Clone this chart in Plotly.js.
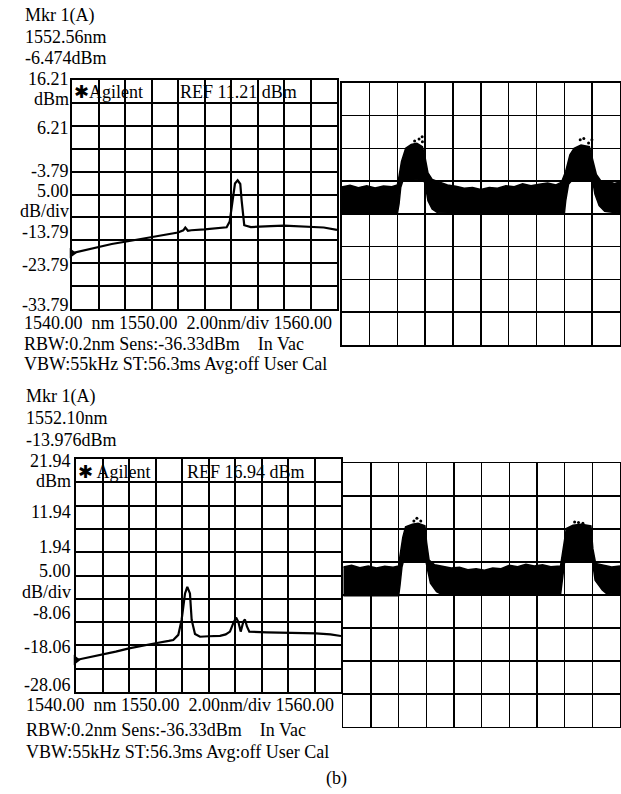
<!DOCTYPE html>
<html><head><meta charset="utf-8">
<script src="https://cdn.plot.ly/plotly-3.0.1.min.js"></script>
<style>html,body{margin:0;padding:0;background:#fff}</style>
</head><body><div id="chart" style="width:621px;height:794px"></div>
<script>
// ---------- spectrum upper analyzer trace ----------
const specA_nm  = [1540.0,1541.0,1542.0,1543.0,1544.0,1545.0,1546.0,1547.0,1548.0,1548.4,1548.55,1548.75,1549.0,1550.0,1551.0,1551.67,1551.9,1552.13,1552.3,1552.5,1552.56,1552.7,1552.8,1553.0,1553.5,1554.0,1555.0,1556.0,1557.0,1558.0,1559.0,1560.0];
const specA_dbm = [-21.6,-20.9,-20.2,-19.6,-19.1,-18.6,-18.1,-17.6,-17.1,-16.6,-16.0,-16.7,-16.6,-16.4,-16.2,-15.95,-14.7,-9.3,-6.4,-5.7,-5.9,-6.5,-10.0,-15.5,-15.9,-15.8,-15.7,-15.6,-15.7,-15.8,-16.0,-16.5];
// ---------- spectrum lower analyzer trace ----------
const specB_nm  = [1540.0,1541.0,1542.0,1543.0,1544.0,1545.0,1546.0,1547.0,1547.34,1547.72,1547.97,1548.23,1548.4,1548.6,1548.73,1548.98,1549.36,1550.0,1550.87,1551.3,1551.62,1551.87,1552.08,1552.25,1552.43,1552.63,1552.75,1552.9,1553.08,1554.4,1556.0,1558.1,1559.2,1560.0];
const specB_dbm = [-21.2,-20.6,-20.1,-19.4,-18.7,-18.1,-17.6,-17.1,-16.9,-15.8,-12.6,-6.9,-5.5,-6.9,-12.6,-15.6,-16.2,-16.1,-16.0,-15.7,-15.1,-13.3,-12.1,-13.0,-15.1,-13.0,-12.5,-14.0,-15.1,-15.25,-15.3,-15.5,-15.7,-16.05];

// ---------- axis labels / texts ----------
const specA_ylabels = ['16.21','dBm','6.21','-3.79','5.00','dB/div','-13.79','-23.79','-33.79'];
const specB_ylabels = ['21.94','dBm','11.94','1.94','5.00','dB/div','-8.06','-18.06','-28.06'];
const specA_range = [-33.79, 16.21];
const specB_range = [-28.06, 21.94];
const spec_nm_range = [1540, 1560];
const specA_head = ['Mkr 1(A)','1552.56nm','-6.474dBm'];
const specB_head = ['Mkr 1(A)','1552.10nm','-13.976dBm'];
const specA_banner = ['\u2731Agilent','REF 11.21 dBm'];
const specB_banner = ['\u2731 Agilent','REF 16.94 dBm'];
const specA_foot = ['1540.00  nm 1550.00  2.00nm/div 1560.00','RBW:0.2nm Sens:-36.33dBm    In Vac','VBW:55kHz ST:56.3ms Avg:off User Cal'];
const specB_foot = ['1540.00  nm 1550.00  2.00nm/div 1560.00','RBW:0.2nm Sens:-36.33dBm    In Vac','VBW:55kHz ST:56.3ms Avg:off User Cal'];
const caption = '(b)';

// ---------- oscilloscope (upper) envelope, in divisions ----------
const scopeA_up_t = [0,0.3,0.6,0.9,1.2,1.5,1.8,2.0,2.05,2.15,2.3,2.5,2.7,2.9,3.0,3.1,3.25,3.5,3.8,4.1,4.4,4.7,5.0,5.3,5.6,5.9,6.2,6.5,6.8,7.1,7.4,7.7,7.9,8.05,8.2,8.35,8.6,8.9,9.03,9.15,9.3,9.6,9.8,10];
const scopeA_up_v = [4.82,4.87,4.8,4.86,4.79,4.85,4.83,4.88,5.1,5.6,6.0,6.12,6.15,6.05,5.7,5.25,5.05,4.97,4.88,4.84,4.78,4.8,4.74,4.8,4.78,4.86,4.83,4.92,4.86,4.9,4.94,4.88,4.97,5.3,5.8,6.0,6.1,6.05,5.6,5.2,5.02,4.98,4.93,4.97];
const scopeA_lo_t = [0,1.0,2.0,2.06,2.12,2.2,2.95,3.02,3.1,3.25,3.45,5.0,8.0,8.05,8.15,8.25,9.02,9.1,9.25,9.45,10];
const scopeA_lo_v = [4.02,4.0,4.0,4.3,4.8,5.02,5.05,4.8,4.4,4.15,4.03,4.0,4.0,4.4,4.9,5.0,5.0,4.6,4.25,4.08,4.02];
const scopeA_dot_t = [2.62,2.78,2.89,2.9,8.57,8.7,8.87,8.99];
const scopeA_dot_v = [6.22,6.28,6.35,6.2,6.26,6.3,6.16,6.26];
// ---------- oscilloscope (lower) envelope ----------
const scopeB_up_t = [0,0.3,0.6,0.9,1.2,1.5,1.8,2.0,2.05,2.15,2.25,2.5,2.7,2.95,3.01,3.1,3.3,3.6,3.9,4.2,4.5,4.8,5.1,5.4,5.7,6.0,6.3,6.6,6.9,7.2,7.5,7.85,7.95,8.06,8.3,8.6,8.95,9.02,9.12,9.4,9.7,10];
const scopeB_up_v = [4.85,4.9,4.83,4.88,4.82,4.87,4.84,4.88,5.2,5.75,6.07,6.15,6.18,6.1,5.6,5.06,4.92,4.86,4.82,4.84,4.77,4.8,4.75,4.82,4.8,4.9,4.86,4.93,4.88,4.92,4.86,4.88,5.5,6.02,6.12,6.15,6.1,5.4,4.96,4.9,4.85,4.88];
const scopeB_lo_t = [0,2.0,2.05,2.12,2.18,2.98,3.05,3.15,3.37,3.6,7.85,7.92,8.0,9.0,9.1,9.36,9.5,10];
const scopeB_lo_v = [3.98,3.98,4.3,4.85,5.05,5.05,4.75,4.36,4.1,4.0,4.0,4.5,5.02,5.05,4.45,4.15,4.05,4.0];
const scopeB_dot_t = [2.55,2.66,2.8,8.36,8.5,8.66];
const scopeB_dot_v = [6.25,6.33,6.25,6.22,6.2,6.18];

// ---------- layout helpers (pixel -> paper) ----------
const W = 621, H = 794;
const px = x => x / W, py = y => 1 - y / H;
const FONT = {family: 'Liberation Serif, Times New Roman, serif', size: 18, color: '#000'};

function specAxisX(dom){ return {domain: dom, range: spec_nm_range, tick0: 1540, dtick: 2, showgrid: true, gridcolor: '#000', gridwidth: 2,
  showline: true, mirror: true, linecolor: '#000', linewidth: 2, zeroline: false, showticklabels: false, ticks: '', fixedrange: true}; }
function specAxisY(dom, rng){ return {domain: dom, range: rng, tick0: rng[1], dtick: 5, showgrid: true, gridcolor: '#000', gridwidth: 2,
  showline: true, mirror: true, linecolor: '#000', linewidth: 2, zeroline: false, showticklabels: false, ticks: '', fixedrange: true}; }
function scopeAxis(dom, n){ return {domain: dom, range: [0, n], tick0: 0, dtick: 1, showgrid: true, gridcolor: '#000', gridwidth: 1.5,
  showline: true, mirror: true, linecolor: '#000', linewidth: 1.5, zeroline: false, showticklabels: false, ticks: '', fixedrange: true}; }

const layout = {
  width: W, height: H, margin: {l: 0, r: 0, t: 0, b: 0}, paper_bgcolor: '#fff', plot_bgcolor: '#fff',
  showlegend: false, hovermode: false, font: FONT,
  xaxis:  Object.assign(specAxisX([px(72), px(337)]), {anchor: 'y'}),
  yaxis:  Object.assign(specAxisY([py(309), py(80)], specA_range), {anchor: 'x'}),
  xaxis2: Object.assign(scopeAxis([px(341.7), px(620)], 10), {anchor: 'y2'}),
  yaxis2: Object.assign(scopeAxis([py(345), py(82.7)], 8), {anchor: 'x2'}),
  xaxis3: Object.assign(specAxisX([px(76), px(341)]), {anchor: 'y3'}),
  yaxis3: Object.assign(specAxisY([py(692), py(459)], specB_range), {anchor: 'x3'}),
  xaxis4: Object.assign(scopeAxis([px(343.3), px(620)], 10), {anchor: 'y4'}),
  yaxis4: Object.assign(scopeAxis([py(726.7), py(463.3)], 8), {anchor: 'x4'}),
  annotations: []
};

function ann(text, x, y, xanchor){
  layout.annotations.push({text: text, xref: 'paper', yref: 'paper', x: px(x), y: py(y), xanchor: xanchor, yanchor: 'middle',
    showarrow: false, borderpad: 0, font: FONT});
}
// header lines
const headA_y = [16, 37.5, 58], headB_y = [396, 418, 440];
specA_head.forEach((t, i) => ann(t, 24, headA_y[i], 'left'));
specB_head.forEach((t, i) => ann(t, 25, headB_y[i], 'left'));
// y labels
const ylabA_y = [78.5, 98.5, 128, 171, 191, 211, 231.5, 265, 305];
const ylabB_y = [460.5, 480.5, 511.7, 546.7, 571, 592, 613, 646.7, 685];
specA_ylabels.forEach((t, i) => ann(t, 70, ylabA_y[i], 'right'));
specB_ylabels.forEach((t, i) => ann(t, 72, ylabB_y[i], 'right'));
// banners
ann(specA_banner[0], 73, 92, 'left'); ann(specA_banner[1], 179, 92, 'left');
ann(specB_banner[0], 77, 472, 'left'); ann(specB_banner[1], 186, 472, 'left');
// footers
const footA_y = [323.3, 344, 364], footB_y = [705, 730, 751.7];
specA_foot.forEach((t, i) => ann(t, 23, footA_y[i], 'left'));
specB_foot.forEach((t, i) => ann(t, 25, footB_y[i], 'left'));
ann(caption, 336, 778, 'center');

const LINE = {color: '#000', width: 2.2};
const traces = [
  {x: specA_nm, y: specA_dbm, xaxis: 'x', yaxis: 'y', mode: 'lines', line: LINE},
  {x: [specA_nm[0]], y: [specA_dbm[0]], xaxis: 'x', yaxis: 'y', mode: 'markers', cliponaxis: false,
   marker: {symbol: 'triangle-right', size: 9, color: '#000'}},
  {x: specB_nm, y: specB_dbm, xaxis: 'x3', yaxis: 'y3', mode: 'lines', line: LINE},
  {x: [specB_nm[0]], y: [specB_dbm[0]], xaxis: 'x3', yaxis: 'y3', mode: 'markers', cliponaxis: false,
   marker: {symbol: 'triangle-right', size: 9, color: '#000'}},
  {x: scopeA_lo_t, y: scopeA_lo_v, xaxis: 'x2', yaxis: 'y2', mode: 'lines', line: {color: '#000', width: 1.5}},
  {x: scopeA_up_t, y: scopeA_up_v, xaxis: 'x2', yaxis: 'y2', mode: 'lines', line: {color: '#000', width: 1.5}, fill: 'tonexty', fillcolor: '#000'},
  {x: scopeA_dot_t, y: scopeA_dot_v, xaxis: 'x2', yaxis: 'y2', mode: 'markers', marker: {size: 3, color: '#000'}},
  {x: scopeB_lo_t, y: scopeB_lo_v, xaxis: 'x4', yaxis: 'y4', mode: 'lines', line: {color: '#000', width: 1.5}},
  {x: scopeB_up_t, y: scopeB_up_v, xaxis: 'x4', yaxis: 'y4', mode: 'lines', line: {color: '#000', width: 1.5}, fill: 'tonexty', fillcolor: '#000'},
  {x: scopeB_dot_t, y: scopeB_dot_v, xaxis: 'x4', yaxis: 'y4', mode: 'markers', marker: {size: 3, color: '#000'}}
];
Plotly.newPlot('chart', traces, layout, {staticPlot: true, displayModeBar: false});
</script></body></html>
